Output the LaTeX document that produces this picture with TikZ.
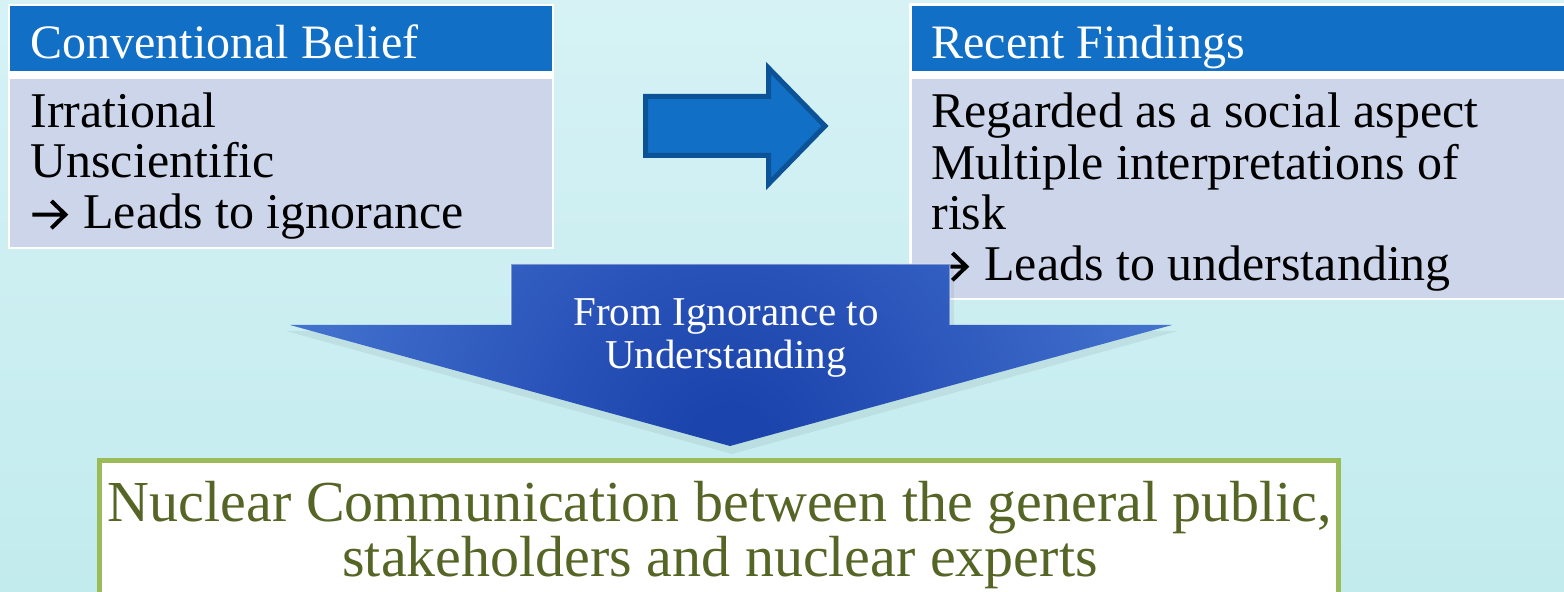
\documentclass[tikz,border=0pt]{standalone}
\usepackage{fontspec}
\setmainfont{Liberation Serif}

\definecolor{bgtop}{HTML}{D6F2F5}
\definecolor{bgbot}{HTML}{C2EBEE}
\definecolor{headblue}{HTML}{1170C6}
\definecolor{bodylav}{HTML}{CDD5EA}
\definecolor{arrowedge}{HTML}{0B5296}
\definecolor{dgA}{HTML}{1B45AC}
\definecolor{dgB}{HTML}{2952B8}
\definecolor{dgC}{HTML}{4C7ED6}
\definecolor{dgD}{HTML}{8CB4E9}
\definecolor{framegreen}{HTML}{9BBB59}
\definecolor{olivetext}{HTML}{556525}

% glow of the big downward arrow, darkest at its tip
\pgfdeclareradialshading{downglow}{\pgfpoint{0bp}{0bp}}{color(0bp)=(dgA); color(2bp)=(dgA); color(9bp)=(dgB); color(27bp)=(dgC); color(45bp)=(dgD); color(50bp)=(dgD)}

% heavy bullet arrow in front of the "Leads to" lines
\newcommand{\leadsym}{\tikz[baseline=0pt, x=1pt, y=1pt]
  \draw[line width=2pt, line join=miter] (0,7.2) -- (16.5,7.2) (9.5,14) -- (16.5,7.2) -- (9.5,0.4);\hspace{8pt}}

\tikzset{
  panelframe/.style={fill=white, draw=none},
  headbar/.style={fill=headblue, draw=none, inner sep=0pt, anchor=north west},
  bodybar/.style={fill=bodylav, draw=none, inner sep=0pt, anchor=north west},
  headtext/.style={inner sep=0pt, anchor=base west, text=white, font=\fontsize{24}{24}\selectfont},
  bodytext/.style={inner sep=0pt, anchor=base west, text=black, font=\fontsize{25}{25}\selectfont},
  blockarrow/.style={fill=headblue, draw=arrowedge, line width=2.5pt, line join=miter},
  arrowtext/.style={inner sep=0pt, anchor=base, text=white, font=\fontsize{20.5}{20.5}\selectfont},
  resultbox/.style={fill=white, draw=framegreen, line width=2.5pt},
  resulttext/.style={inner sep=0pt, anchor=base, text=olivetext, font=\fontsize{29}{29}\selectfont},
}

\begin{document}
\begin{tikzpicture}[x=0.5pt, y=-0.5pt]
\useasboundingbox (0,0) rectangle (1564,592);
\clip (0,0) rectangle (1564,592);

% backdrop
\shade[top color=bgtop, bottom color=bgbot] (0,0) rectangle (1564,592);

% left panel: conventional belief
\fill[panelframe] (8,4) rectangle (554,249);
\node[headbar, minimum width=271pt, minimum height=32.5pt] (convHead) at (10,6) {};
\node[bodybar, minimum width=271pt, minimum height=84pt] (convBody) at (10,79) {};
\node[headtext] (convTitle) at (30,59) {Conventional Belief};
\node[bodytext] (convA) at (30,128) {Irrational};
\node[bodytext] (convB) at (30,178) {Unscientific};
\node[bodytext] (convC) at (30,229) {\leadsym Leads to ignorance};

% right panel: recent findings
\fill[panelframe] (909,3) rectangle (1570,300);
\node[headbar, minimum width=330pt, minimum height=32.5pt] (recHead) at (912,6) {};
\node[bodybar, minimum width=330pt, minimum height=109.5pt] (recBody) at (912,79) {};
\node[headtext] (recTitle) at (931,59) {Recent Findings};
\node[bodytext] (recA) at (931,128) {Regarded as a social aspect};
\node[bodytext] (recB) at (931,180) {Multiple interpretations of};
\node[bodytext] (recC) at (931,230) {risk};
\node[bodytext] (recD) at (931,281) {\leadsym Leads to understanding};

% block arrow between the panels
\draw[blockarrow] (645.5,96.5) -- (768.5,96.5) -- (768.5,68) -- (825,126)
  -- (768.5,184) -- (768.5,155.5) -- (645.5,155.5) -- cycle;

% soft shadow under the big downward arrow
\fill[black, opacity=0.06] (515,270) -- (954,270) -- (954,331) -- (1178,331)
  -- (732,454) -- (286,331) -- (515,331) -- cycle;

% big downward arrow
\begin{scope}
  \clip (511,264) -- (950,264) -- (950,325) -- (1172,325) -- (730,446)
    -- (290,325) -- (511,325) -- cycle;
  \shade[shading=downglow] (730,446) circle (500);
\end{scope}
\draw[white, opacity=0.35, line width=0.6pt] (511,325) -- (511,264) -- (950,264) -- (950,325);
\node[arrowtext] (flowA) at (726,326) {From Ignorance to};
\node[arrowtext] (flowB) at (726,369) {Understanding};

% result box
\draw[resultbox] (99.5,460.5) rectangle (1338.5,620);
\node[resulttext] (resA) at (720,522) {Nuclear Communication between the general public,};
\node[resulttext] (resB) at (720,577) {stakeholders and nuclear experts};
\end{tikzpicture}
\end{document}
